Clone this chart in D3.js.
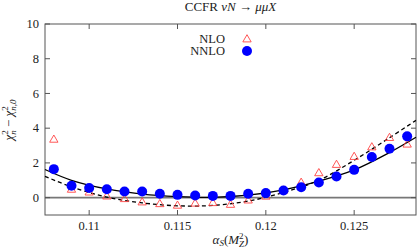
<!DOCTYPE html>
<html>
<head>
<meta charset="utf-8">
<script src="https://cdn.jsdelivr.net/npm/d3@7"></script>
<style>
  body { margin: 0; background: #fff; }
  text { font-family: "Liberation Serif", "DejaVu Serif", serif; fill: #222; }
</style>
</head>
<body>
<svg id="chart" width="417" height="251"></svg>
<script>
// alpha_S grid for the points
var alphas = [0.108, 0.109, 0.110, 0.111, 0.112, 0.113, 0.114, 0.115, 0.116, 0.117,
              0.118, 0.119, 0.120, 0.121, 0.122, 0.123, 0.124, 0.125, 0.126, 0.127, 0.128];
var nloChi2 = [3.33, 0.45, 0.29, 0.06, -0.09, -0.28, -0.38, -0.47, -0.35, -0.32,
               -0.42, -0.17, 0.05, 0.40, 0.85, 1.40, 1.88, 2.34, 2.89, 3.43, 3.05];
var nnloChi2 = [1.64, 0.68, 0.55, 0.48, 0.35, 0.35, 0.22, 0.16, 0.12, 0.10,
                0.10, 0.22, 0.26, 0.41, 0.60, 0.87, 1.22, 1.60, 2.34, 2.82, 3.53];

// fitted curves
var fitAlphas = [0.1075, 0.109, 0.111, 0.113, 0.115, 0.117, 0.119, 0.121, 0.123, 0.125, 0.127, 0.1285];
var nnloFit = [1.62, 1.0, 0.5, 0.2, 0.06, 0.02, 0.14, 0.45, 0.95, 1.6, 2.6, 3.48];
var nloFit = [1.23, 0.62, 0.03, -0.3, -0.47, -0.45, -0.2, 0.3, 1.0, 2.15, 3.45, 4.45];

var xTicks = [0.11, 0.115, 0.12, 0.125];
var yTicks = [0, 2, 4, 6, 8, 10];

var svg = d3.select("#chart");
var pLeft = 45, pRight = 416, pTop = 24, pBottom = 215;

var x = d3.scaleLinear().domain([0.1075, 0.1285]).range([pLeft, pRight]);
var y = d3.scaleLinear().domain([-1, 10]).range([pBottom, pTop]);

var axisColor = "#555";
var fs = 12.5;

// zero line
svg.append("line")
  .attr("x1", pLeft).attr("x2", pRight)
  .attr("y1", y(0)).attr("y2", y(0))
  .attr("stroke", "#777").attr("stroke-width", 1.6);

// frame
svg.append("rect")
  .attr("x", pLeft).attr("y", pTop)
  .attr("width", pRight - pLeft).attr("height", pBottom - pTop)
  .attr("fill", "none").attr("stroke", axisColor).attr("stroke-width", 1);

// inward ticks on all four sides
var tl = 5;
xTicks.forEach(function(t) {
  svg.append("line").attr("x1", x(t)).attr("x2", x(t)).attr("y1", pBottom).attr("y2", pBottom - tl)
    .attr("stroke", axisColor);
  svg.append("line").attr("x1", x(t)).attr("x2", x(t)).attr("y1", pTop).attr("y2", pTop + tl)
    .attr("stroke", axisColor);
  svg.append("text").attr("x", x(t)).attr("y", 229.5)
    .attr("text-anchor", "middle").attr("font-size", fs).text(t);
});
yTicks.forEach(function(t) {
  svg.append("line").attr("x1", pLeft).attr("x2", pLeft + tl).attr("y1", y(t)).attr("y2", y(t))
    .attr("stroke", axisColor);
  svg.append("line").attr("x1", pRight).attr("x2", pRight - tl).attr("y1", y(t)).attr("y2", y(t))
    .attr("stroke", axisColor);
  svg.append("text").attr("x", 39).attr("y", y(t)).attr("dy", "0.33em")
    .attr("text-anchor", "end").attr("font-size", fs).text(t);
});

// fit curves
var line = d3.line()
  .x(function(d) { return x(d[0]); })
  .y(function(d) { return y(d[1]); })
  .curve(d3.curveCatmullRom);

svg.append("path")
  .attr("d", line(d3.zip(fitAlphas, nloFit)))
  .attr("fill", "none").attr("stroke", "#000").attr("stroke-width", 1.3)
  .attr("stroke-dasharray", "4,3");
svg.append("path")
  .attr("d", line(d3.zip(fitAlphas, nnloFit)))
  .attr("fill", "none").attr("stroke", "#000").attr("stroke-width", 1.3);

// points
var tri = d3.symbol().type(d3.symbolTriangle).size(30);
svg.append("g").selectAll("path")
  .data(d3.zip(alphas, nloChi2))
  .enter().append("path")
  .attr("d", tri)
  .attr("transform", function(d) { return "translate(" + x(d[0]) + "," + y(d[1]) + ")"; })
  .attr("fill", "none").attr("stroke", "#f44").attr("stroke-width", 0.9);

svg.append("g").selectAll("circle")
  .data(d3.zip(alphas, nnloChi2))
  .enter().append("circle")
  .attr("cx", function(d) { return x(d[0]); })
  .attr("cy", function(d) { return y(d[1]); })
  .attr("r", 5).attr("fill", "#00f");

// legend
svg.append("text").attr("x", 225).attr("y", 42.5)
  .attr("text-anchor", "end").attr("font-size", 12.5).text("NLO");
svg.append("path").attr("d", tri).attr("transform", "translate(247,39.5)")
  .attr("fill", "none").attr("stroke", "#f44").attr("stroke-width", 0.9);
svg.append("text").attr("x", 225).attr("y", 54.5)
  .attr("text-anchor", "end").attr("font-size", 12.5).text("NNLO");
svg.append("circle").attr("cx", 247).attr("cy", 51).attr("r", 5).attr("fill", "#00f");

// title
var title = svg.append("text").attr("x", (pLeft + pRight) / 2).attr("y", 11)
  .attr("text-anchor", "middle").attr("font-size", 13);
title.append("tspan").text("CCFR ");
title.append("tspan").attr("font-style", "italic").text("νN");
title.append("tspan").text(" → ");
title.append("tspan").attr("font-style", "italic").text("μμX");

// x label
var xl = svg.append("text").attr("x", (pLeft + pRight) / 2).attr("y", 244)
  .attr("text-anchor", "middle").attr("font-size", 13);
xl.append("tspan").attr("font-style", "italic").text("α");
xl.append("tspan").attr("font-style", "italic").attr("font-size", 9).attr("dy", 2).text("S");
xl.append("tspan").attr("dy", -2).text("(");
xl.append("tspan").attr("font-style", "italic").text("M");
xl.append("tspan").attr("font-size", 9).attr("dy", -5).text("2");
xl.append("tspan").attr("font-style", "italic").attr("font-size", 9).attr("dx", -4.5).attr("dy", 8).text("Z");
xl.append("tspan").attr("dy", -3).text(")");

// y label
var yl = svg.append("text").attr("transform", "translate(13,120) rotate(-90)")
  .attr("text-anchor", "middle").attr("font-size", 13);
yl.append("tspan").attr("font-style", "italic").text("χ");
yl.append("tspan").attr("font-size", 9).attr("dy", -5).text("2");
yl.append("tspan").attr("font-style", "italic").attr("font-size", 9).attr("dx", -4.5).attr("dy", 8).text("n");
yl.append("tspan").attr("dy", -3).text(" − ");
yl.append("tspan").attr("font-style", "italic").text("χ");
yl.append("tspan").attr("font-size", 9).attr("dy", -5).text("2");
yl.append("tspan").attr("font-style", "italic").attr("font-size", 9).attr("dx", -4.5).attr("dy", 8).text("n,0");
</script>
</body>
</html>
